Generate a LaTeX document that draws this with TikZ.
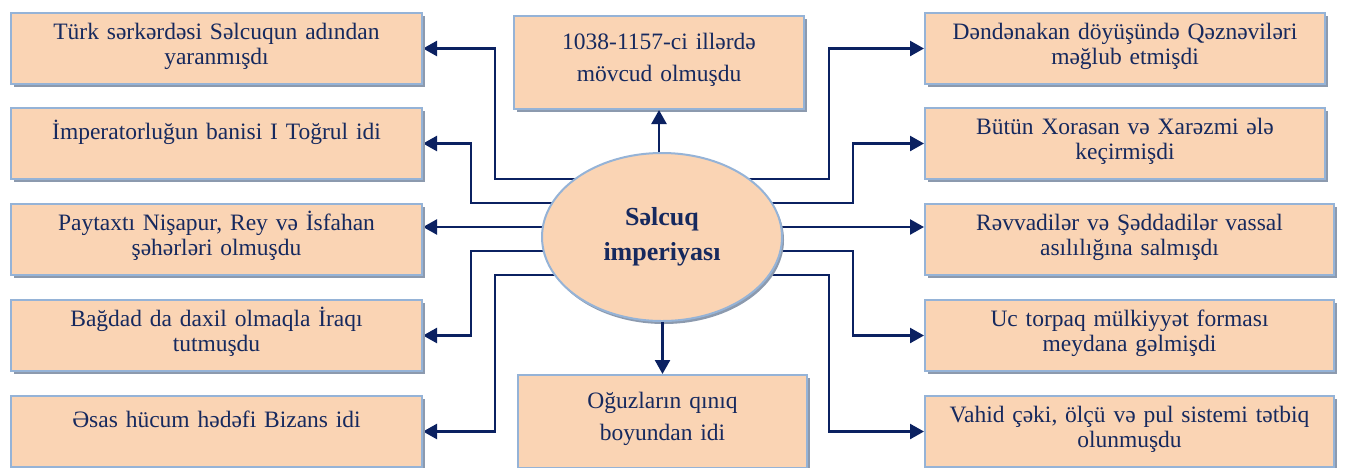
\documentclass[tikz,border=0pt]{standalone}
\usepackage{fontspec}
\setmainfont{Liberation Serif}
\usetikzlibrary{arrows.meta,shapes.geometric,shadows,backgrounds}
\definecolor{peach}{HTML}{FAD4B4}
\definecolor{edgeblue}{HTML}{95B3D7}
\definecolor{shadowgray}{HTML}{8C9AAE}
\definecolor{navy}{HTML}{0B2161}
\definecolor{inknavy}{HTML}{16295E}

\tikzset{
  fact/.style={draw=edgeblue, line width=2pt, fill=peach, inner sep=0pt,
    anchor=north west, align=center, text=inknavy,
    font=\fontsize{23.5}{25.5}\selectfont, text height=26pt, text depth=45pt,
    drop shadow={shadow xshift=3pt, shadow yshift=-3pt, fill=shadowgray, opacity=1}},
  oneline/.style={text height=31pt, text depth=40pt},
  midfact/.style={fact, font=\fontsize{23.5}{32}\selectfont, text height=33pt, text depth=60pt},
  core/.style={ellipse, draw=edgeblue, line width=2pt, fill=peach, inner sep=0pt,
    minimum width=240pt, minimum height=168pt, align=center, text=inknavy,
    font=\bfseries\fontsize{26}{35}\selectfont,
    drop shadow={shadow xshift=2pt, shadow yshift=-3pt, fill=shadowgray, opacity=1}},
  link/.style={draw=navy, line width=2.4pt, -{Triangle[length=14pt,width=15pt]}}
}

\begin{document}
\begin{tikzpicture}[x=1pt, y=-1pt]
  \useasboundingbox (0,0) rectangle (1351,467);

  % Centre
  \node[core] (ell) at (662,237) {Səlcuq\\imperiyası};

  % Top and bottom
  \node[midfact, text width=290pt] (top) at (513,15) {1038-1157-ci illərdə\\mövcud olmuşdu};
  \node[midfact, text width=289pt] (bot) at (517,374) {Oğuzların qınıq\\boyundan idi};

  % Left column
  \node[fact, text width=411pt] (l1) at (10,12) {Türk sərkərdəsi Səlcuqun adından\\yaranmışdı};
  \node[fact, oneline, text width=411pt] (l2) at (10,107) {İmperatorluğun banisi I Toğrul idi};
  \node[fact, text width=411pt] (l3) at (10,203) {Paytaxtı Nişapur, Rey və İsfahan\\şəhərləri olmuşdu};
  \node[fact, text width=411pt] (l4) at (10,299) {Bağdad da daxil olmaqla İraqı\\tutmuşdu};
  \node[fact, oneline, text width=411pt] (l5) at (10,395) {Əsas hücum hədəfi Bizans idi};

  % Right column
  \node[fact, text width=400pt] (r1) at (924,12) {Dəndənakan döyüşündə Qəznəviləri\\məğlub etmişdi};
  \node[fact, text width=400pt] (r2) at (924,107) {Bütün Xorasan və Xarəzmi ələ\\keçirmişdi};
  \node[fact, text width=409pt] (r3) at (924,203) {Rəvvadilər və Şəddadilər vassal\\asılılığına salmışdı};
  \node[fact, text width=409pt] (r4) at (924,299) {Uc torpaq mülkiyyət forması\\meydana gəlmişdi};
  \node[fact, text width=409pt] (r5) at (924,395) {Vahid çəki, ölçü və pul sistemi tətbiq\\olunmuşdu};

  % Start points on the ellipse
  \coordinate (c1) at ([yshift=58pt]ell.center);
  \coordinate (c2) at ([yshift=34pt]ell.center);
  \coordinate (c3) at ([yshift=10pt]ell.center);
  \coordinate (c4) at ([yshift=-14pt]ell.center);
  \coordinate (c5) at ([yshift=-38pt]ell.center);

  \begin{pgfonlayer}{background}
    % left side
    \draw[link] (c1) -| ([xshift=72pt]l1.east) -- (l1.east);
    \draw[link] (c2) -| ([xshift=48pt]l2.east) -- (l2.east);
    \draw[link] (c3) -- (c3 -| l3.east);
    \draw[link] (c4) -| ([xshift=48pt]l4.east) -- (l4.east);
    \draw[link] (c5) -| ([xshift=72pt]l5.east) -- (l5.east);
    % right side
    \draw[link] (c1) -| ([xshift=-95pt]r1.west) -- (r1.west);
    \draw[link] (c2) -| ([xshift=-71pt]r2.west) -- (r2.west);
    \draw[link] (c3) -- (c3 -| r3.west);
    \draw[link] (c4) -| ([xshift=-71pt]r4.west) -- (r4.west);
    \draw[link] (c5) -| ([xshift=-95pt]r5.west) -- (r5.west);
  \end{pgfonlayer}

  % Up and down
  \draw[link] (ell.north -| top.south) -- (top.south);
  \draw[link] (ell.south -| bot.north) -- (bot.north);
\end{tikzpicture}
\end{document}
